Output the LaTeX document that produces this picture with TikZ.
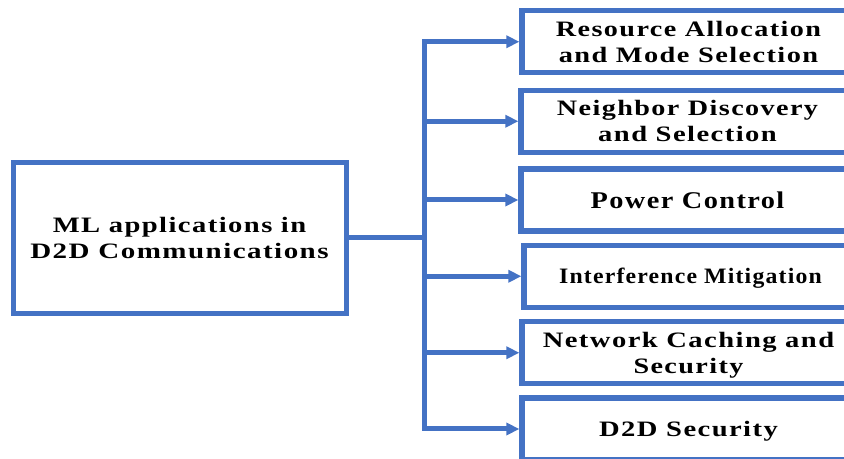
\documentclass[tikz,border=0pt]{standalone}
\usepackage{fontspec}
\usepackage{graphicx}
\usetikzlibrary{arrows.meta}
\newfontfamily\lblfont{Liberation Serif}[LetterSpace=5]
\definecolor{lineblue}{RGB}{68,114,196}
\newcommand\sxl[2]{\scalebox{#1}[1]{#2}}
\begin{document}
\begin{tikzpicture}[x=0.75pt,y=-0.75pt,
  box/.style={draw=lineblue,line width=3.9pt,fill=white,rectangle,
    minimum width=249.75pt,minimum height=46.5pt,inner sep=0pt,align=center,
    text depth=0pt,
    font=\lblfont\bfseries\fontsize{16.5pt}{19.5pt}\selectfont},
  mainbox/.style={box,minimum width=249.75pt,minimum height=113.25pt,line width=3.75pt},
  conn/.style={draw=lineblue,line width=3.75pt},
  arr/.style={conn,-{Triangle[length=9.75pt,width=9pt]}}]
\useasboundingbox (0,0) rectangle (844,459);
\clip (0,0) rectangle (844,459);
\node[mainbox] (main) at (179.5,238) {\sxl{1.30}{ML applications in}\\\sxl{1.32}{D2D Communications}};
\node[box] (b1) at (688.5,41.75) {\sxl{1.28}{Resource Allocation}\\\sxl{1.29}{and Mode Selection}};
\node[box] (b2) at (687.5,121.25) {\sxl{1.28}{Neighbor Discovery}\\\sxl{1.30}{and Selection}};
\node[box,font=\lblfont\bfseries\fontsize{18pt}{19.5pt}\selectfont] (b3) at (687.5,200) {\sxl{1.18}{Power Control}};
\node[box] (b4) at (690.5,276.25) {\sxl{1.08}{Interference Mitigation}};
\node[box] (b5) at (688.5,352.75) {\sxl{1.30}{Network Caching and}\\\sxl{1.28}{Security}};
\node[box] (b6) at (688.5,429) {\sxl{1.30}{D2D Security}};
\coordinate (trunk) at (424,238);
\draw[conn,line cap=rect] (b1.west -| trunk) -- (b6.west -| trunk);
\draw[conn] (main.east) -- (main.east -| trunk);
\foreach \b in {b1,b2,b3,b4,b5,b6}{
  \draw[arr] (\b.west -| trunk) -- (\b.west);
}
\end{tikzpicture}
\end{document}
